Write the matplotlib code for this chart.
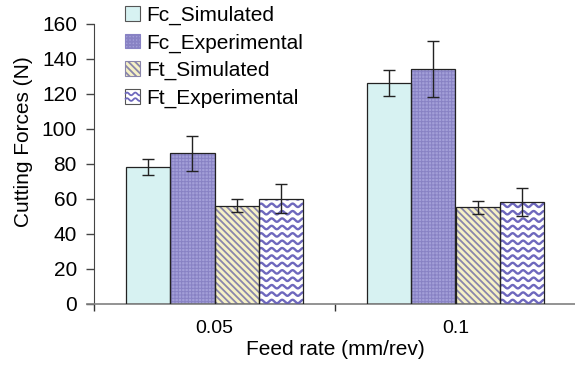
import numpy as np
import matplotlib
matplotlib.use("Agg")
import matplotlib.pyplot as plt
from matplotlib.patches import Rectangle
from matplotlib.lines import Line2D
from matplotlib.legend_handler import HandlerBase

plt.rcParams['font.family'] = ['Liberation Sans', 'DejaVu Sans']

categories = ['0.05', '0.1']
series_names = ['Fc_Simulated', 'Fc_Experimental', 'Ft_Simulated', 'Ft_Experimental']
fc_sim = [78, 126]
fc_sim_err = [4.5, 7.5]
fc_exp = [86, 134]
fc_exp_err = [10, 16]
ft_sim = [56, 55]
ft_sim_err = [3.8, 3.8]
ft_exp = [60, 58]
ft_exp_err = [8.4, 8.0]
y_ticks = [0, 20, 40, 60, 80, 100, 120, 140, 160]

values = [fc_sim, fc_exp, ft_sim, ft_exp]
errors = [fc_sim_err, fc_exp_err, ft_sim_err, ft_exp_err]

W, H = 575, 365
fig = plt.figure(figsize=(W / 100, H / 100), dpi=100)
ax = fig.add_axes([94 / W, 1 - 303.5 / H, (576 - 94) / W, (303.5 - 23.7) / H])
ax.set_xlim(-0.5, len(categories) - 0.5)
ax.set_ylim(0, 160)

FS = 15
bw = 0.1826
x = np.arange(len(categories))
edge = '#222222'

STRIPE = '\\\\\\\\\\'
styles = [
    dict(face='#d7f2f2', hatch=None, hcol=None),
    dict(face='#a39fd8', hatch='+++++', hcol='#8882c4'),
    dict(face='#f6f1c6', hatch=STRIPE, hcol='#8a86ab'),
    dict(face='white', hatch=None, hcol=None),
]

wave_color = '#6e68bd'
bar_containers = []
for i, (vals, st) in enumerate(zip(values, styles)):
    pos = x + (i - 1.5) * bw
    if st['hatch']:
        plt.rcParams['hatch.linewidth'] = 1.3 if i == 2 else 0.7
        ax.bar(pos, vals, bw, color=st['face'], edgecolor=st['hcol'], hatch=st['hatch'],
               linewidth=0, zorder=2)
    else:
        ax.bar(pos, vals, bw, color=st['face'], linewidth=0, zorder=2)
    bc = ax.bar(pos, vals, bw, facecolor='none', edgecolor=edge, linewidth=0.9, zorder=4)
    bar_containers.append(bc)

# wavy texture for Ft_Experimental bars (decoration, clipped to each bar)
px_x = (576 - 94) / 2.0          # pixels per category unit
px_y = (303.5 - 23.7) / 160.0    # pixels per force unit
for rect in bar_containers[3]:
    x0, w_, h_ = rect.get_x(), rect.get_width(), rect.get_height()
    xs = np.linspace(x0 - 0.02, x0 + w_ + 0.02, 200)
    period = 10.5 / px_x
    amp = 1.7 / px_y
    spacing = 7.4 / px_y
    yb = 2.0 / px_y
    while yb < h_ + spacing:
        ys = yb + amp * np.sin(2 * np.pi * (xs - x0) / period)
        ln = Line2D(xs, ys, color=wave_color, linewidth=1.7, zorder=3)
        ax.add_line(ln)
        ln.set_clip_path(rect)
        yb += spacing

for i, (vals, err) in enumerate(zip(values, errors)):
    pos = x + (i - 1.5) * bw
    ax.errorbar(pos, vals, yerr=err, fmt='none', ecolor='#222222', elinewidth=1.0,
                capsize=4.2, capthick=1.0, zorder=5)

# axes styling
for s in ['top', 'right']:
    ax.spines[s].set_visible(False)
ax.spines['left'].set_color('#444444')
ax.spines['bottom'].set_color('#808080')
ax.spines['bottom'].set_linewidth(1.2)
ax.spines['bottom'].set_bounds(-0.5 - 7 / px_x, len(categories) - 0.5)
ax.set_yticks(y_ticks)
ax.set_yticklabels([str(v) for v in y_ticks], fontsize=FS)
ax.tick_params(axis='y', direction='out', length=5.8, width=1, color='#444444', pad=6.5)
ax.set_xticks(x)
ax.set_xticklabels(categories, fontsize=14)
ax.tick_params(axis='x', which='major', length=0, pad=12)
ax.set_xticks(np.arange(-0.5, len(categories) + 0.5, 1), minor=True)
ax.tick_params(axis='x', which='minor', direction='out', length=5, width=1, color='#333333')
ax.set_xlabel('Feed rate (mm/rev)', fontsize=FS, labelpad=2)
ax.set_ylabel('Cutting Forces (N)', fontsize=FS)
ax.yaxis.set_label_coords(-0.127, (303.5 - 142) / (303.5 - 23.7))


class HandlerWave(HandlerBase):
    def create_artists(self, legend, orig_handle, xdescent, ydescent, width, height,
                       fontsize, trans):
        r = Rectangle((-xdescent, -ydescent), width, height, facecolor='white',
                      edgecolor='#555555', linewidth=0.8, transform=trans)
        arts = [r]
        xs = np.linspace(-xdescent + 0.5, -xdescent + width - 0.5, 40)
        for frac in (0.3, 0.68):
            ys = -ydescent + frac * height + 0.09 * height * np.sin(2 * np.pi * xs / (width * 0.55))
            arts.append(Line2D(xs, ys, color=wave_color, linewidth=1.3, transform=trans))
        return arts


plt.rcParams['hatch.linewidth'] = 0.7
h0 = Rectangle((0, 0), 1, 1, facecolor=styles[0]['face'], edgecolor='#555555', linewidth=0.8)
h1 = Rectangle((0, 0), 1, 1, facecolor=styles[1]['face'], edgecolor='#8882c4', hatch='+++++', linewidth=0.8)
plt.rcParams['hatch.linewidth'] = 1.3
h2 = Rectangle((0, 0), 1, 1, facecolor=styles[2]['face'], edgecolor='#8a86ab', hatch=STRIPE, linewidth=0.8)
h3 = Rectangle((0, 0), 1, 1)
leg = fig.legend([h0, h1, h2, h3], series_names, loc='upper left',
                 bbox_to_anchor=(125 / W, 1 - 5.5 / H), frameon=False, fontsize=FS,
                 handlelength=0.72, handleheight=0.72, handletextpad=0.3,
                 labelspacing=0.41, borderpad=0, borderaxespad=0,
                 handler_map={h3: HandlerWave()})

fig.savefig('out.png', dpi=100)
